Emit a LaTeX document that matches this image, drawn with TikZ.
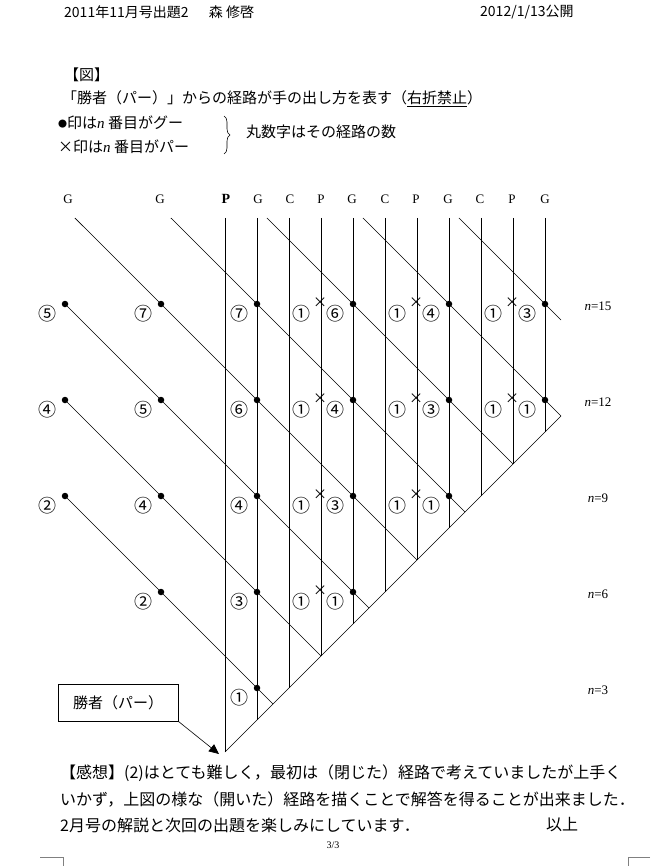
\documentclass[tikz,border=0pt]{standalone}
\usepackage{fontspec}
\setmainfont{Liberation Serif}
\newfontfamily\jp{Noto Sans CJK JP}
\usetikzlibrary{arrows.meta,decorations.pathreplacing}
\tikzset{
  thin line/.style={line width=0.6pt},
  thick line/.style={line width=1pt},
  gdot/.style={circle,fill=black,inner sep=0pt,minimum size=6.5pt},
  cnum/.style={font=\jp\fontsize{18}{18}\selectfont,inner sep=0pt},
  toplab/.style={font=\fontsize{13}{13}\selectfont,inner sep=0pt},
  nlab/.style={font=\fontsize{13}{13}\selectfont,inner sep=0pt},
  jtxt/.style={font=\jp\fontsize{15}{15}\selectfont,inner sep=0pt,anchor=west},
  htxt/.style={font=\jp\fontsize{14}{14}\selectfont,inner sep=0pt,anchor=west},
}
\begin{document}
\begin{tikzpicture}[x=1pt,y=-1pt]
\useasboundingbox (0,0) rectangle (664,866);
\fill[white] (0,0) rectangle (664,866);
% header
\node[htxt] (h1) at (64,12) {2011年11月号出題2\quad\ \ 森 修啓};
\node[htxt] (h2) at (480,12) {2012/1/13公開};
\node[jtxt] (t1) at (64,75) {【図】};
\node[jtxt] (t2) at (62,99) {「勝者（パー）」からの経路が手の出し方を表す（\underline{右折禁止}）};
\node[jtxt] (t3) at (58,123) {\raisebox{0.2ex}{\fontsize{9}{9}\selectfont●}印は{\itshape\rmfamily n} 番目がグー};
\node[jtxt] (t4) at (58,147) {×印は{\itshape\rmfamily n} 番目がパー};
\draw[thin line,decorate,decoration={brace,amplitude=6pt}] (224,116) -- (224,154);
\node[jtxt] (t5) at (246,132) {丸数字はその経路の数};
% top labels
\foreach \x/\l [count=\k] in {68/G,160/G,258/G,290/C,321/P,352/G,385/C,416/P,448/G,480/C,512/P,545/G}
  \node[toplab] (top\k) at (\x,199) {\l};
\node[toplab,font=\bfseries\fontsize{14}{14}\selectfont] (topP) at (226,199) {P};
% vertical lines
\foreach \i in {0,...,10} {
  \coordinate (vt\i) at ({225+32*\i},218);
  \coordinate (vb\i) at ({225+32*\i},{752-32*\i});
  \draw[thick line] (vt\i) -- (vb\i);
}
% boundary
\coordinate (apex) at (225,752);
\coordinate (bend) at ({225+32*10.5},{752-32*10.5});
\draw[thin line] (apex) -- (bend);
% diagonals
\foreach \s in {3,6,9} {
  \coordinate (ds\s) at ({225-160},{752-32*(\s+5)});
  \coordinate (de\s) at ({225+16*\s},{752-16*\s});
  \draw[thin line] (ds\s) -- (de\s);
}
\foreach \s in {12,15,18,21} {
  \coordinate (ds\s) at ({225+32*(\s-16.69)},218);
  \coordinate (de\s) at ({225+16*\s},{752-16*\s});
  \draw[thin line] (ds\s) -- (de\s);
}
\coordinate (ds24) at ({225+32*(24-16.69)},218);
\coordinate (de24) at ({225+32*10.5},{752-32*13.5});
\draw[thin line] (ds24) -- (de24);
% dots with circled numbers
\foreach \i/\m/\lab [count=\k] in {-5/15/⑤,-2/15/⑦,1/15/⑦,4/15/⑥,7/15/④,10/15/③,-5/12/④,-2/12/⑤,1/12/⑥,4/12/④,7/12/③,10/12/①,-5/9/②,-2/9/④,1/9/④,4/9/③,7/9/①,-2/6/②,1/6/③,4/6/①,1/3/①} {
  \node[gdot] (d\k) at ({225+32*\i},{784-32*\m}) {};
  \node[cnum] (c\k) at ({225+32*\i-18},{784-32*\m+10}) {\lab};
}
% crosses
\foreach \i/\m [count=\k] in {3/15,6/15,9/15,3/12,6/12,9/12,3/9,6/9,3/6} {
  \node[inner sep=0pt,font=\jp\fontsize{14}{14}\selectfont] (x\k) at ({224+32*\i},{783-32*\m}) {×};
  \node[cnum] (xo\k) at ({224+32*\i-19},{783-32*\m+11}) {①};
}
% n labels
\foreach \m in {15,12,9,6,3}
  \node[nlab] (n\m) at (598,{786-32*\m}) {\textit{n}=\m};
% winner box
\node[draw,thin line,minimum width=120pt,minimum height=37pt,inner sep=0pt,font=\jp\fontsize{15}{15}\selectfont] (win) at (118,702.5) {勝者（パー）};
\draw[thin line,-{Triangle[length=10pt,width=9pt]}] (win.south east) -- ([xshift=-6pt,yshift=-2pt]apex);
% bottom text
\node[jtxt,font=\jp\fontsize{16}{16}\selectfont] (b1) at (60,773) {【感想】(2)はとても難しく，最初は（閉じた）経路で考えていましたが上手く};
\node[jtxt,font=\jp\fontsize{16}{16}\selectfont] (b2) at (60,799) {いかず，上図の様な（開いた）経路を描くことで解答を得ることが出来ました．};
\node[jtxt,font=\jp\fontsize{16}{16}\selectfont] (b3) at (60,825) {2月号の解説と次回の出題を楽しみにしています．};
\node[jtxt,font=\jp\fontsize{16}{16}\selectfont] (b4) at (546,825) {以上};
\node[inner sep=0pt,font=\fontsize{10}{10}\selectfont] (pg) at (333,845) {3/3};
% page corner marks
\draw[line width=0.4pt,gray] (40,857) -- (63,857) -- (63,866);
\draw[line width=0.4pt,gray] (650,857) -- (628,857) -- (628,866);
\end{tikzpicture}
\end{document}
